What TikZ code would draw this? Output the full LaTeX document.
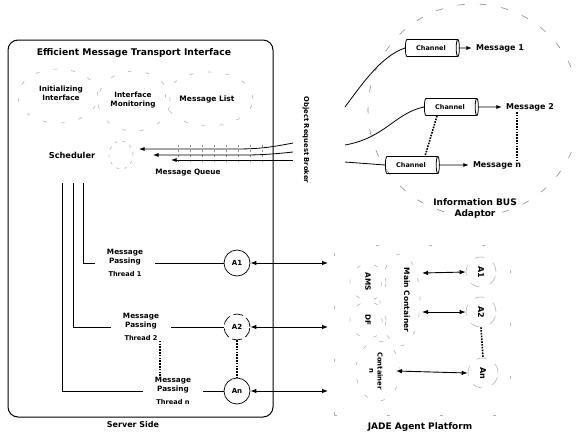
\documentclass[tikz,border=0pt]{standalone}
\usepackage{fontspec}
\setmainfont{DejaVu Sans}
\usepackage{graphicx}
\usetikzlibrary{shapes.geometric,arrows.meta,calc}
\tikzset{
  fsz/.code={\pgfmathsetmacro\fszb{#1*1.22}\edef\fsztmp{\noexpand\tikzset{font=\noexpand\fontsize{#1}{\fszb}\noexpand\selectfont\noexpand\bfseries}}\fsztmp},
  lbl/.style={fsz=#1, align=center, inner sep=1pt},
  ghost/.style={draw=black!30, line width=0.6pt, dash pattern=on 4pt off 14pt},
  chan/.style={cylinder, draw, line width=0.8pt, shape aspect=0.45, minimum height=54pt, minimum width=17pt, inner sep=1pt, fsz=6.5},
  agent/.style={circle, draw, line width=0.7pt, minimum size=26pt, inner sep=0pt, fsz=7},
  jagent/.style={circle, ghost, dash pattern=on 10pt off 10pt, minimum size=30pt, inner sep=0pt},
  thread/.style={minimum width=60pt, inner sep=0pt, align=center, fsz=7.3},
  conn/.style={line width=0.8pt},
  dbl/.style={line width=0.9pt, {Latex[length=6pt,width=4.5pt]}-{Latex[length=6pt,width=4.5pt]}},
  sarr/.style={line width=0.8pt, -{Latex[length=5.5pt,width=4pt]}},
  dots/.style={line width=1.6pt, dash pattern=on 1.6pt off 1.2pt},
}
\begin{document}
\begin{tikzpicture}[x=1pt,y=-1pt]
\path[use as bounding box] (0,0) rectangle (576,432);

% ---------------- Server side ----------------
\node[draw, line width=1pt, rounded corners=10pt, minimum width=265pt, minimum height=377pt, inner sep=0pt] (server) at (140.5,228.5) {};
\node[lbl=9.2] (title) at (134,53) {Efficient Message Transport Interface};

\node[ellipse, ghost, minimum width=80pt, minimum height=54pt] (initg) at (58,96) {};
\node[lbl=7.3] (init) at (61,93) {Initializing\\Interface};
\node[ellipse, ghost, minimum width=72pt, minimum height=60pt] (mong) at (134,101) {};
\node[lbl=7.3] (mon) at (133,100) {Interface\\Monitoring};
\node[ellipse, ghost, minimum width=88pt, minimum height=54pt] (mlg) at (209,99) {};
\node[lbl=7.5] (mlist) at (207,99) {Message List};

\node[lbl=8.2] (sched) at (72,155) {Scheduler};
\node[ellipse, ghost, dash pattern=on 3pt off 5pt, minimum width=24pt, minimum height=28pt] (qe) at (121,155) {};

% message queue
\coordinate (q1s) at (293,143);
\coordinate (q2s) at (293,152);
\coordinate (q3s) at (293,160);
\coordinate (q1e) at (139,149);
\coordinate (q2e) at (153,155);
\coordinate (q3e) at (171,160);
\foreach \xx in {178,190,202,214,226,238,250,262}{
  \draw[black!45, line width=0.5pt, dash pattern=on 2pt off 3pt] (\xx,145) -- (\xx,164);
}
\draw[sarr] (q1s) .. controls (268,148) and (255,149) .. (235,149) -- (q1e);
\draw[sarr] (q2s) .. controls (275,154) and (260,155) .. (245,155) -- (q2e);
\draw[sarr] (q3s) -- (q3e);
\node[lbl=7.3] (mq) at (188,173) {Message Queue};

% threads
\coordinate (s1) at (62,183);
\coordinate (s2) at (73,183);
\coordinate (s3) at (83,183);
\node[thread] (t1) at (125,263) {Message\\Passing\\[4pt]{\fontsize{6.6}{7.5}\selectfont Thread 1}};
\node[thread] (t2) at (141,327) {Message\\Passing\\[4pt]{\fontsize{6.6}{7.5}\selectfont Thread 2}};
\node[thread] (tn) at (173,391) {Message\\Passing\\[4pt]{\fontsize{6.6}{7.5}\selectfont Thread n}};
\draw[conn] (s3) |- (t1.west);
\draw[conn] (s2) |- (t2.west);
\draw[conn] (s1) |- (tn.west);
\draw[dots] ([xshift=19pt]t2.south) -- ([xshift=-13pt]tn.north);

\node[agent] (a1) at (237,263) {A1};
\node[agent, dash pattern=on 10pt off 4pt] (a2) at (237,327) {A2};
\node[agent] (an) at (237,391) {An};
\draw[conn] (t1.east) -- (a1.west);
\draw[conn] (t2.east) -- (a2.west);
\draw[conn] (tn.east) -- (an.west);
\draw[dots] (a2.south) -- (an.north);

\coordinate (r1) at (328,263);
\coordinate (r2) at (328,327);
\coordinate (r3) at (328,391);
\draw[dbl] (a1.east) -- (r1);
\draw[dbl] (a2.east) -- (r2);
\draw[dbl] (an.east) -- (r3);

\node[lbl=8] (sside) at (133,425) {Server Side};

% ---------------- ORB ----------------
\node[lbl=6.8, rotate=-90] (orb) at (306,140) {Object Request Broker};

% ---------------- Information BUS ----------------
\node[circle, ghost, draw=black!45, dash pattern=on 7pt off 15pt, minimum size=212pt] (bus) at (474,110) {};
\node[chan] (ch1) at (431,48) {Channel};
\node[chan] (ch2) at (450,107) {Channel};
\node[chan] (chn) at (411,165) {Channel};
\node[lbl=8] (m1) at (500,48) {Message 1};
\node[lbl=8] (m2) at (530,107) {Message 2};
\node[lbl=8] (mn) at (497,165) {Message n};
\draw[sarr] (ch1.east) -- ([xshift=-3pt]m1.west);
\draw[sarr] (ch2.east) -- ([xshift=-3pt]m2.west);
\draw[sarr] (chn.east) -- ([xshift=-3pt]mn.west);
\draw[dots] ([xshift=-13pt]ch2.south) -- ([xshift=14pt]chn.north);
\draw[dots] ([xshift=-13pt]m2.south) -- ([xshift=20pt]mn.north);

\coordinate (o1) at (345,107);
\coordinate (o2) at (345,145);
\coordinate (o3) at (345,162);
\draw[conn] (o1) .. controls (365,80) and (382,56) .. (ch1.west);
\draw[conn] (o2) .. controls (385,138) and (395,113) .. (ch2.west);
\draw[conn] (o3) -- (chn.west);
\node[lbl=9] (busl) at (475,209) {Information BUS\\Adaptor};

% ---------------- JADE ----------------
\node[ghost, draw=black!30, dash pattern=on 3pt off 50pt, minimum width=176pt, minimum height=170pt] (jade) at (422,330) {};
\node[circle, ghost, minimum size=36pt] (amsg) at (368,282) {};
\node[lbl=7.3, rotate=-90] (ams) at (368,282) {AMS};
\node[circle, ghost, minimum size=36pt] (dfg) at (368,320) {};
\node[lbl=7.3, rotate=-90] (df) at (368,320) {DF};
\node[ellipse, ghost, minimum width=40pt, minimum height=92pt] (mcg) at (400,300) {};
\node[lbl=7.5, rotate=-90] (mc) at (407,300) {Main Container};
\node[ellipse, ghost, minimum width=44pt, minimum height=60pt] (cng) at (378,371) {};
\node[lbl=6.8, rotate=-90] (cn) at (376,371) {Container\\n};

\node[jagent] (ja1) at (481,272) {};
\node[jagent] (ja2) at (481,312) {};
\node[jagent] (jan) at (483,373) {};
\node[lbl=8, rotate=-90] (ja1t) at (ja1) {A1};
\node[lbl=8, rotate=-90] (ja2t) at (ja2) {A2};
\node[lbl=8, rotate=-90] (jant) at (jan) {An};
\coordinate (j1) at (422,273);
\coordinate (j2) at (422,312);
\coordinate (j3) at (396,371);
\draw[dbl] (j1) -- (ja1.west);
\draw[dbl] (j2) -- (ja2.west);
\draw[dbl] (j3) -- (jan.west);
\draw[dots] (ja2.south) -- (jan.north);

\node[lbl=9] (jadel) at (420,427) {JADE Agent Platform};
\end{tikzpicture}
\end{document}
